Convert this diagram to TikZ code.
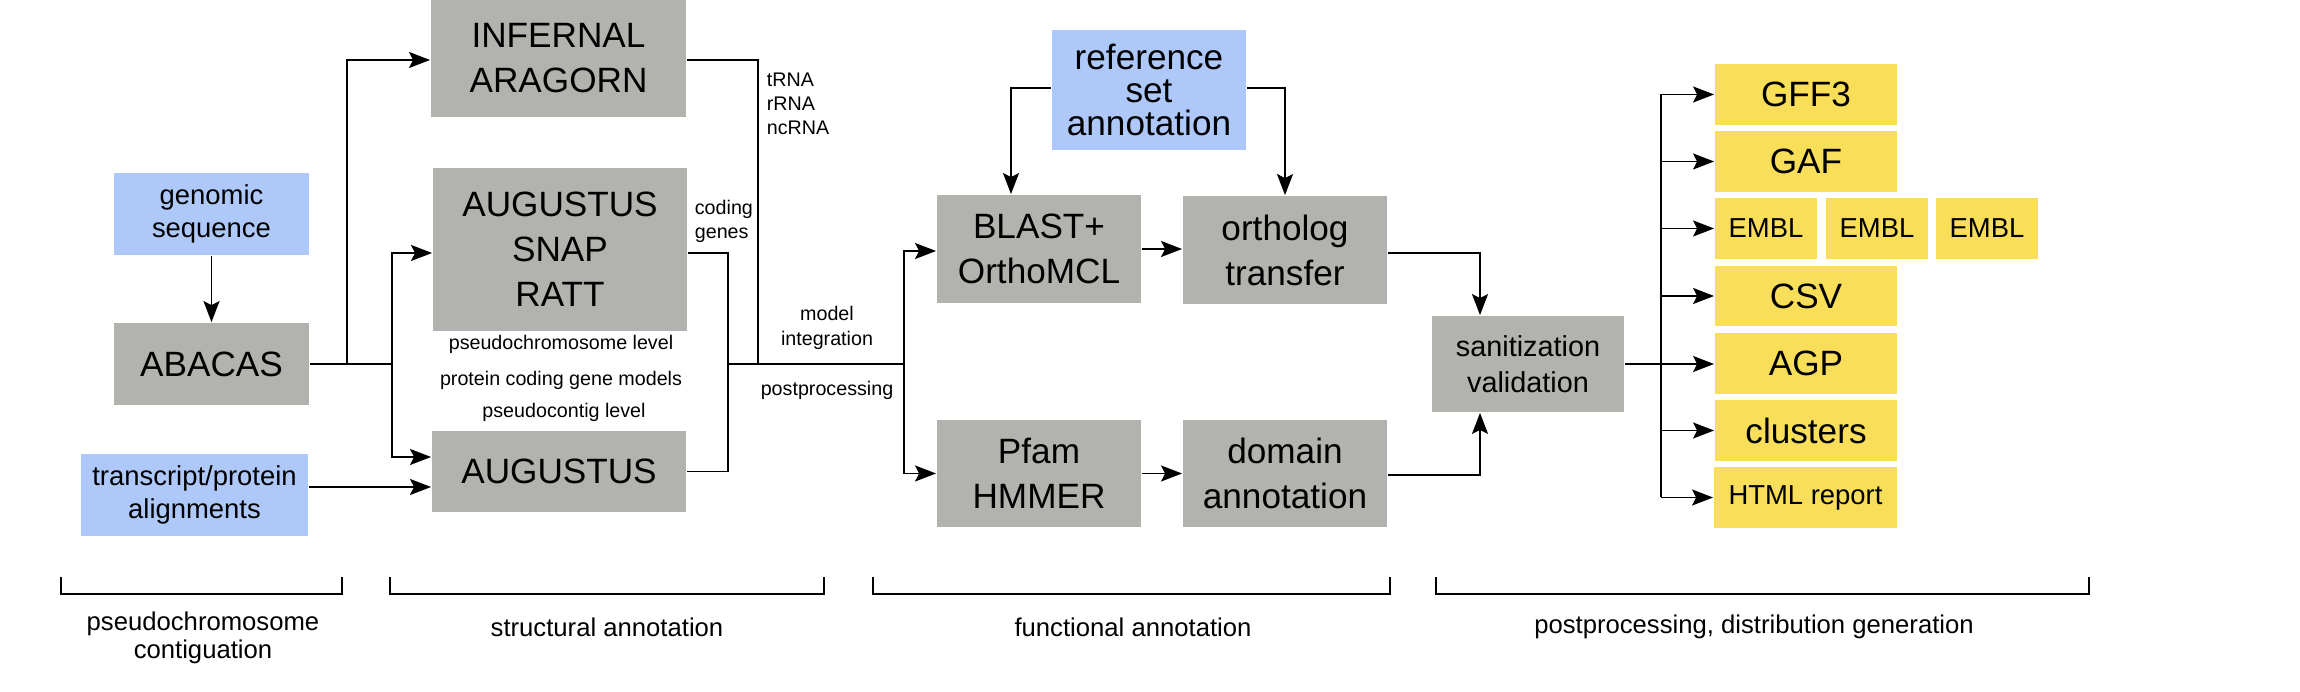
\documentclass[tikz,border=0pt]{standalone}
\usepackage{fontspec}
\setmainfont{Liberation Sans}
\usetikzlibrary{arrows.meta,calc}

\definecolor{cinza}{HTML}{B2B3AF}
\definecolor{azul}{HTML}{AEC9F9}
\definecolor{amarelo}{HTML}{F9DE5A}

\begin{document}
\begin{tikzpicture}[x=0.01cm, y=-0.01cm,
    caixa/.style={fill=cinza, inner sep=0pt, align=center},
    entrada/.style={fill=azul, inner sep=0pt, align=center},
    saida/.style={fill=amarelo, inner sep=0pt, align=center, minimum height=0.6cm},
    grande/.style={font=\fontsize{10}{12.8}\selectfont},
    media/.style={font=\fontsize{7.8}{9.4}\selectfont},
    rotulo/.style={inner sep=0pt, align=center, font=\fontsize{5.6}{6.9}\selectfont},
    fase/.style={inner sep=0pt, align=center, font=\fontsize{7.3}{6.3}\selectfont},
    seta/.style={-{Stealth[length=2.1mm,width=1.6mm,inset=0.4mm]}},
    line width=0.5pt]
        % 1. AREA DO DESENHO (pixels da figura original)
        \useasboundingbox (0,0) rectangle (2300,692);

        % ==========================================
        % 2. CAIXAS
        % ==========================================
        \node[caixa, grande, minimum width=2.55cm, minimum height=1.17cm] (infernal) at (558.5,58.5) {INFERNAL\\ARAGORN};
        \node[entrada, media, minimum width=1.95cm, minimum height=0.82cm] (genomic) at (211.5,214) {genomic\\sequence};
        \node[caixa, grande, minimum width=1.95cm, minimum height=0.82cm] (abacas) at (211.5,364) {ABACAS};
        \node[entrada, media, minimum width=2.27cm, minimum height=0.82cm] (transcript) at (194.5,495) {transcript/protein\\alignments};
        \node[caixa, grande, minimum width=2.54cm, minimum height=1.63cm] (asr) at (560,249.5) {AUGUSTUS\\SNAP\\RATT};
        \node[caixa, grande, minimum width=2.54cm, minimum height=0.81cm] (augustus) at (559,471.5) {AUGUSTUS};

        \node[entrada, font=\fontsize{10}{9.4}\selectfont, minimum width=1.94cm, minimum height=1.2cm] (refset) at (1149,90) {reference\\set\\annotation};
        \node[caixa, grande, minimum width=2.04cm, minimum height=1.08cm] (blast) at (1039,249) {BLAST+\\OrthoMCL};
        \node[caixa, grande, minimum width=2.04cm, minimum height=1.08cm] (ortholog) at (1285,250) {ortholog\\transfer};
        \node[caixa, grande, minimum width=2.04cm, minimum height=1.07cm] (pfam) at (1039,473.5) {Pfam\\HMMER};
        \node[caixa, grande, minimum width=2.04cm, minimum height=1.07cm] (domain) at (1285,473.5) {domain\\annotation};
        \node[caixa, font=\fontsize{8.2}{10.2}\selectfont, minimum width=1.92cm, minimum height=0.96cm] (sanit) at (1528,364) {sanitization\\validation};

        % Formatos de saida
        \node[saida, grande, minimum width=1.82cm] (gff) at (1806,94.5) {GFF3};
        \node[saida, grande, minimum width=1.82cm] (gaf) at (1806,161.5) {GAF};
        \node[saida, media, minimum width=1.02cm] (emblA) at (1766,228.5) {EMBL};
        \node[saida, media, minimum width=1.02cm] (emblB) at (1877,228.5) {EMBL};
        \node[saida, media, minimum width=1.02cm] (emblC) at (1987,228.5) {EMBL};
        \node[saida, grande, minimum width=1.82cm] (csv) at (1806,296) {CSV};
        \node[saida, grande, minimum width=1.82cm] (agp) at (1806,363.5) {AGP};
        \node[saida, grande, minimum width=1.82cm] (clusters) at (1806,430.5) {clusters};
        \node[saida, media, minimum width=1.83cm] (html) at (1805.5,497.5) {HTML report};

        % ==========================================
        % 3. ROTULOS
        % ==========================================
        \node[rotulo, align=left, anchor=west] (rna) at (766,104) {tRNA\\rRNA\\ncRNA};
        \node[rotulo, align=left, anchor=west] (coding) at (694,221.5) {coding\\genes};
        \node[rotulo] (pcl) at (561,344) {pseudochromosome level};
        \node[rotulo] (pcgm) at (561,380) {protein coding gene models};
        \node[rotulo] (pctl) at (564,412) {pseudocontig level};
        \node[rotulo] (modelint) at (827,328) {model\\integration};
        \node[rotulo] (postp) at (827,390) {postprocessing};

        % ==========================================
        % 4. LIGACOES
        % ==========================================
        \coordinate (r1) at (347,0);
        \coordinate (r2) at (392,0);
        \coordinate (r3) at (728,0);
        \coordinate (r4) at (758,0);
        \coordinate (r5) at (904,0);
        \coordinate (r6) at (1011,0);
        \coordinate (r7) at (1480,0);
        \coordinate (barra) at (1661,0);
        \coordinate (augin1) at ($(augustus.west)+(0,-14.5)$);
        \coordinate (augin2) at ($(augustus.west)+(0,15.5)$);

        \draw[seta] (genomic) -- (abacas);
        \draw (abacas.east) -- (abacas.east -| r2);
        \draw[seta] (abacas.east -| r1) |- ($(infernal.west)+(0,1.5)$);
        \draw[seta] (abacas.east -| r2) |- ($(asr.west)+(0,3.5)$);
        \draw[seta] (abacas.east -| r2) |- (augin1);
        \draw[seta] (transcript.east |- augin2) -- (augin2);

        \draw ($(infernal.east)+(0,1.5)$) -| (r4 |- abacas.east);
        \draw ($(asr.east)+(0,3.5)$) -| (r3 |- augustus.east) -- (augustus.east);
        \draw (r3 |- abacas.east) -- (r5 |- abacas.east);
        \draw[seta] (r5 |- abacas.east) |- ($(blast.west)+(0,2)$);
        \draw[seta] (r5 |- abacas.east) |- (pfam.west);

        \draw[seta] (blast.east) -- (blast.east -| ortholog.west);
        \draw[seta] (pfam.east) -- (domain.west);
        \draw[seta] ($(refset.west)+(0,-2)$) -| (r6 |- blast.north);
        \draw[seta] ($(refset.east)+(0,-2)$) -| (ortholog.north);
        \draw[seta] ($(ortholog.east)+(0,3)$) -| (r7 |- sanit.north);
        \draw[seta] ($(domain.east)+(0,1.5)$) -| (r7 |- sanit.south);

        \draw[seta] (sanit.east) -- (sanit.east -| agp.west);
        \draw (barra |- gff.west) -- (barra |- html.west);
        \foreach \n in {gff,gaf,emblA,csv,clusters,html}
            \draw[seta] (barra |- \n.west) -- (\n.west);

        % ==========================================
        % 5. FASES
        % ==========================================
        \foreach \a/\b in {61/342, 390/824, 873/1390, 1436/2089}
            \draw (\a,577) -- (\a,594) -- (\b,594) -- (\b,577);
        \node[fase] (fase1) at (203,638) {pseudochromosome\\contiguation};
        \node[fase] (fase2) at (607,627) {structural annotation};
        \node[fase] (fase3) at (1133,627) {functional annotation};
        \node[fase] (fase4) at (1754,627) {postprocessing, distribution generation};

    \end{tikzpicture}
\end{document}
